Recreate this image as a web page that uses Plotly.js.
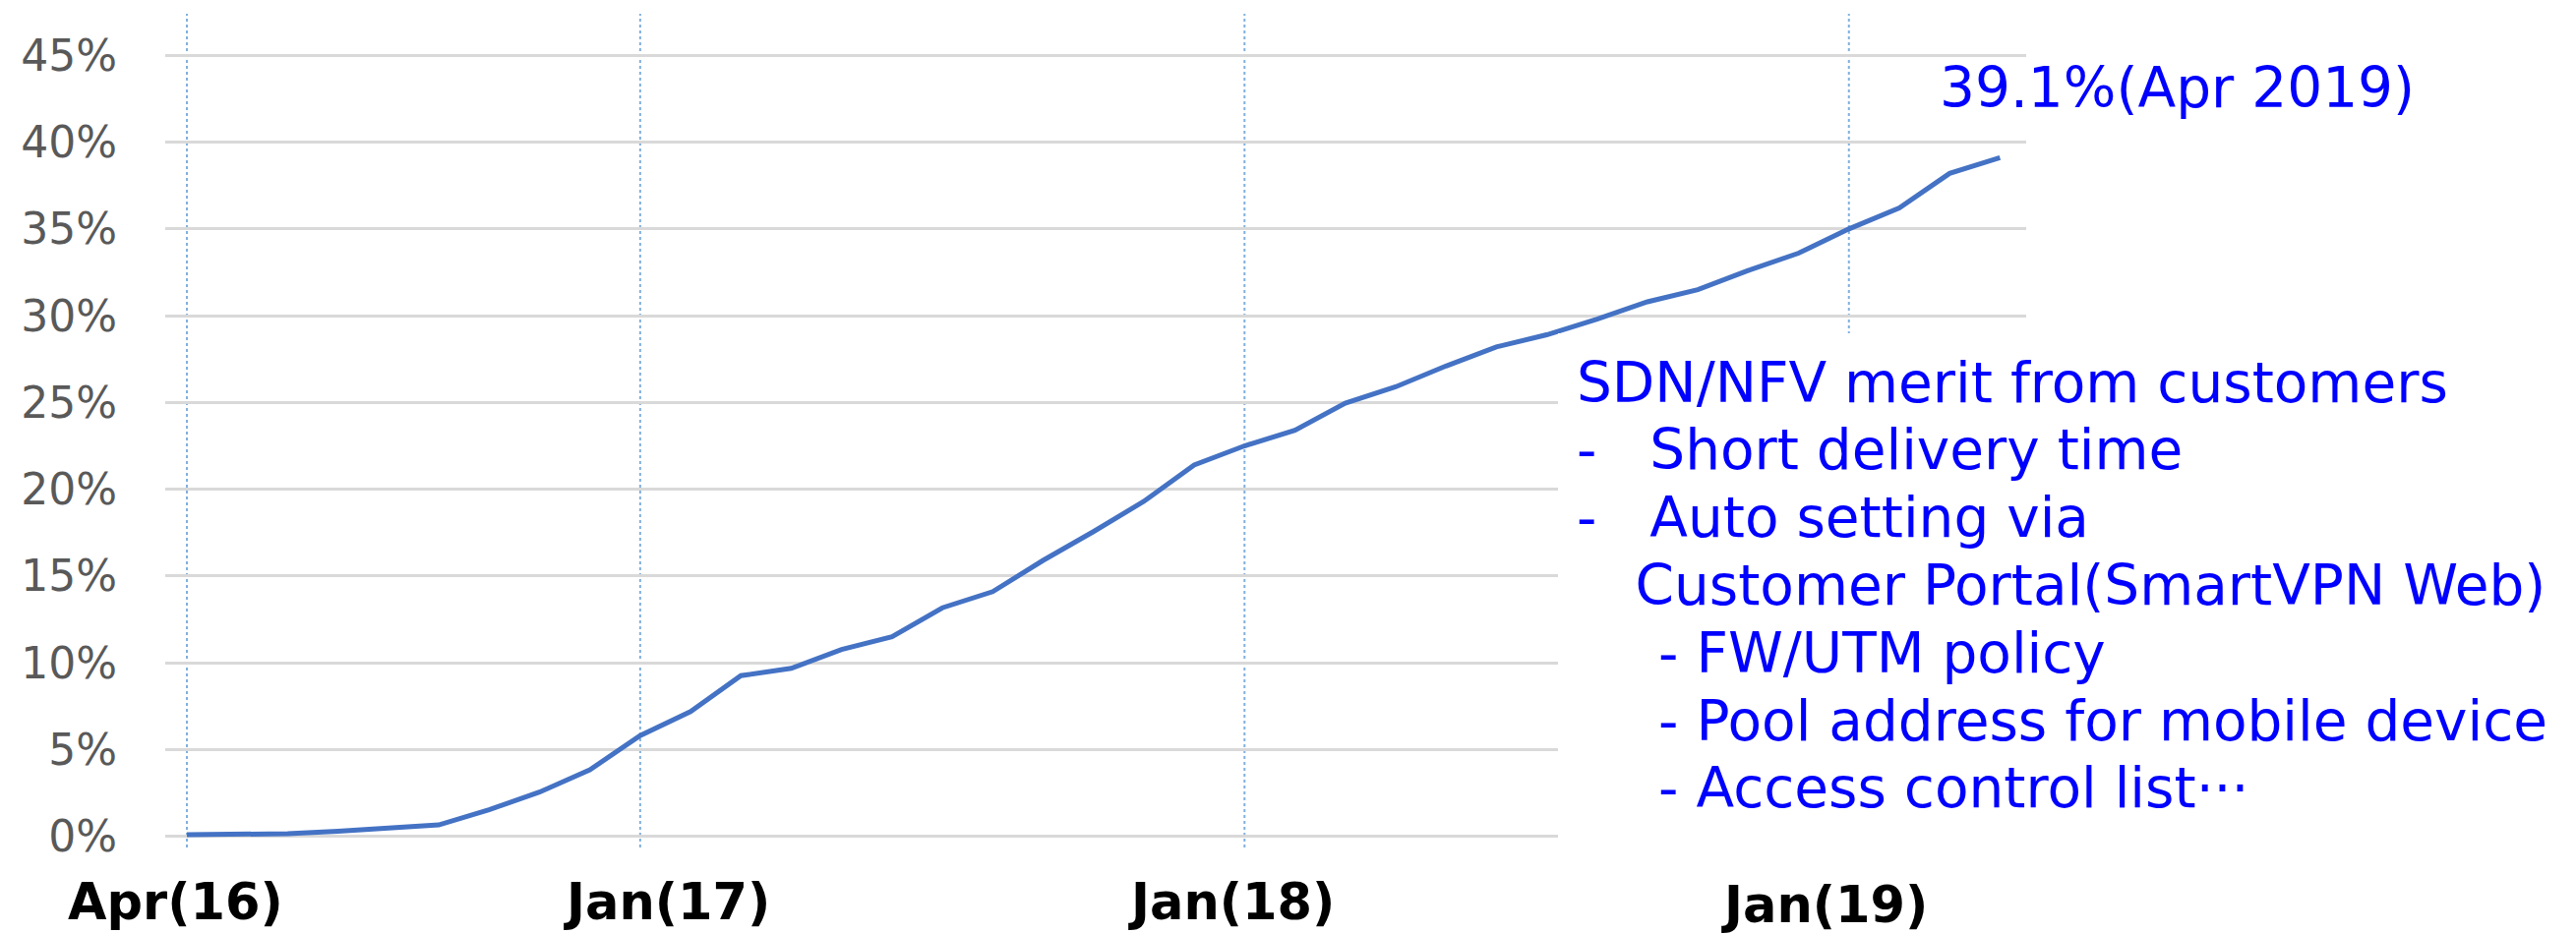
<!DOCTYPE html>
<html>
<head>
<meta charset="utf-8">
<script src="https://cdn.plot.ly/plotly-3.0.1.min.js"></script>
<style>
  html, body { margin: 0; padding: 0; background: #ffffff; }
  #chart { width: 2619px; height: 949px; }
</style>
</head>
<body>
<div id="chart"></div>
<script>
// ---- data ----
const months = [
  '2016-04','2016-05','2016-06','2016-07','2016-08','2016-09','2016-10','2016-11','2016-12',
  '2017-01','2017-02','2017-03','2017-04','2017-05','2017-06','2017-07','2017-08','2017-09','2017-10','2017-11','2017-12',
  '2018-01','2018-02','2018-03','2018-04','2018-05','2018-06','2018-07','2018-08','2018-09','2018-10','2018-11','2018-12',
  '2019-01','2019-02','2019-03','2019-04'
];
const adoptionPct = [
  0.1, 0.1, 0.15, 0.3, 0.47, 0.66, 1.53, 2.55, 3.83,
  5.81, 7.19, 9.26, 9.68, 10.77, 11.5, 13.17, 14.1, 15.9, 17.56, 19.3, 21.4,
  22.5, 23.4, 24.96, 25.9, 27.1, 28.2, 28.9, 29.8, 30.8, 31.5, 32.6, 33.6,
  35.0, 36.2, 38.2, 39.1
];
const yTicks = [0, 5, 10, 15, 20, 25, 30, 35, 40, 45];
const markerMonths = ['2016-04', '2017-01', '2018-01', '2019-01'];
const markerLabels = ['Apr(16)', 'Jan(17)', 'Jan(18)', 'Jan(19)'];
const endLabel = '39.1%(Apr 2019)';
const noteLines = [
  'SDN/NFV merit from customers',
  '-\u00a0\u00a0\u00a0Short delivery time',
  '-\u00a0\u00a0\u00a0Auto setting via',
  '\u00a0\u00a0\u00a0\u200aCustomer Portal(SmartVPN Web)',
  '\u00a0\u00a0\u00a0\u00a0\u2009- FW/UTM policy',
  '\u00a0\u00a0\u00a0\u00a0\u2009- Pool address for mobile device',
  '\u00a0\u00a0\u00a0\u00a0\u2009- Access control list\u00b7\u00b7\u00b7'
];

// ---- layout geometry (pixels) ----
const W = 2619, H = 949;
const mL = 168, mR = 559, mT = 51, mB = 93;
const plotW = W - mL - mR, plotH = H - mT - mB;
const px2paperX = px => (px - mL) / plotW;
const py2paperY = py => (H - mB - py) / plotH;

const FONT = 'DejaVu Sans, Verdana, sans-serif';
const BLUE = '#0000FF';

const shapes = [];
markerMonths.forEach(m => {
  shapes.push({
    type: 'line', xref: 'x', yref: 'paper',
    x0: m, x1: m, y0: py2paperY(862), y1: py2paperY(14),
    line: { color: '#7FB0E0', width: 2, dash: 'dot' },
    layer: 'below'
  });
});
// white text box overlaying the chart
shapes.push({
  type: 'rect', xref: 'paper', yref: 'paper',
  x0: px2paperX(1584), x1: px2paperX(2619), y0: py2paperY(875), y1: py2paperY(339),
  fillcolor: '#ffffff', line: { width: 0 }, layer: 'above'
});

const annotations = [];
// x category labels (text boxes under the chart)
const labelCentersPx = [178, 678, 1252, 1855];
const labelBaselinePx = [935, 935, 935, 938];
markerLabels.forEach((t, i) => {
  const fs = 51;
  const centerY = labelBaselinePx[i] - 0.928 * fs + 0.582 * fs;
  annotations.push({
    xref: 'paper', yref: 'paper', x: px2paperX(labelCentersPx[i]), y: py2paperY(centerY),
    xanchor: 'center', yanchor: 'middle', showarrow: false,
    text: '<b>' + t + '</b>', borderpad: 0, borderwidth: 0,
    font: { family: FONT, size: fs, color: '#000000' }
  });
});
// end value label
{
  const fs = 56.5;
  annotations.push({
    xref: 'paper', yref: 'paper', x: px2paperX(1972), y: py2paperY(109 - 0.346 * fs),
    xanchor: 'left', yanchor: 'middle', showarrow: false, text: endLabel,
    borderpad: 0, borderwidth: 0,
    font: { family: FONT, size: fs, color: BLUE }
  });
}
// note box lines
{
  const fs = 56.5, firstBaseline = 408.6, step = 68.8;
  noteLines.forEach((t, i) => {
    const base = firstBaseline + i * step;
    annotations.push({
      xref: 'paper', yref: 'paper', x: px2paperX(1603), y: py2paperY(base - 0.346 * fs),
      xanchor: 'left', yanchor: 'middle', showarrow: false, text: t,
      borderpad: 0, borderwidth: 0,
      font: { family: FONT, size: fs, color: BLUE }
    });
  });
}

const trace = {
  type: 'scatter', mode: 'lines',
  x: months, y: adoptionPct,
  line: { color: '#4472C4', width: 5, shape: 'linear' },
  hoverinfo: 'skip', showlegend: false
};

const layout = {
  width: W, height: H,
  margin: { l: mL, r: mR, t: mT, b: mB, pad: 0 },
  paper_bgcolor: '#ffffff', plot_bgcolor: 'rgba(0,0,0,0)',
  showlegend: false,
  font: { family: FONT },
  xaxis: {
    type: 'category', categoryorder: 'array', categoryarray: months,
    range: [-0.43, 36.52],
    showgrid: false, zeroline: false, showline: false, showticklabels: false, ticks: ''
  },
  yaxis: {
    range: [-0.3, 45.3],
    tickmode: 'array', tickvals: yTicks, ticktext: yTicks.map(v => v + '%'),
    showgrid: true, gridcolor: '#D9D9D9', gridwidth: 3,
    zeroline: false, showline: false, ticks: '',
    ticklabelstandoff: 48,
    tickfont: { family: FONT, size: 44, color: '#595959' }
  },
  shapes: shapes,
  annotations: annotations
};

Plotly.newPlot('chart', [trace], layout, { displayModeBar: false, staticPlot: true });
</script>
</body>
</html>
